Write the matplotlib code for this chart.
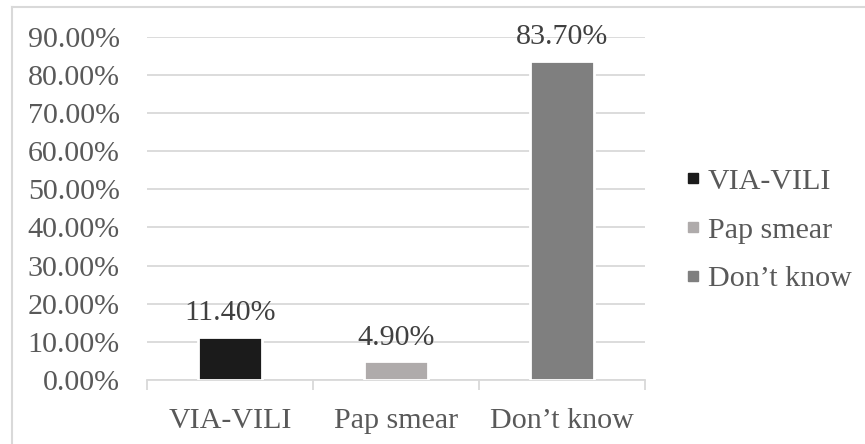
import matplotlib
matplotlib.use("Agg")
import matplotlib.pyplot as plt
from matplotlib.lines import Line2D
from matplotlib.ticker import FuncFormatter

categories = ["VIA-VILI", "Pap smear", "Don\u2019t know"]
values = [11.40, 4.90, 83.70]
colors = ["#1b1b1b", "#afabab", "#7f7f7f"]
y_ticks = [0, 10, 20, 30, 40, 50, 60, 70, 80, 90]

plt.rcParams["font.family"] = ["Liberation Serif", "DejaVu Serif"]
text_color = "#595959"
grid_color = "#d9d9d9"
fs = 21.6

fig = plt.figure(figsize=(8.65, 4.44), dpi=100)
ax = fig.add_axes([147 / 865, 1 - 380 / 444, (645 - 147) / 865, (380 - 36.7) / 444])

x = range(len(categories))
bars = ax.bar(x, values, width=0.38, color=colors, edgecolor="white",
              linewidth=2, zorder=3)

for xi, v in zip(x, values):
    ax.annotate(f"{v:.2f}%", (xi, v), xytext=(0, 12), textcoords="offset points",
                ha="center", va="baseline", fontsize=fs, color="#404040")

ax.set_xlim(-0.5, len(categories) - 0.5)
ax.set_ylim(0, 90)
ax.set_yticks(y_ticks)
ax.yaxis.set_major_formatter(FuncFormatter(lambda v, p: f"{v:.2f}%"))
ax.yaxis.grid(True, color=grid_color, linewidth=1.3, zorder=0)
ax.set_axisbelow(True)

ax.set_xticks(list(x))
ax.set_xticklabels(categories)
ax.set_xticks([i - 0.5 for i in range(len(categories) + 1)], minor=True)
ax.tick_params(axis="x", which="major", length=0, pad=20, labelsize=fs,
               labelcolor=text_color)
ax.tick_params(axis="x", which="minor", length=7, width=1.3, color=grid_color)
ax.tick_params(axis="y", length=0, pad=19.5, labelsize=fs, labelcolor=text_color)

for side in ["top", "right", "left"]:
    ax.spines[side].set_visible(False)
ax.spines["bottom"].set_color(grid_color)
ax.spines["bottom"].set_linewidth(1.3)

handles = [Line2D([], [], marker="s", linestyle="none", markersize=7,
                  markerfacecolor=c, markeredgecolor=c) for c in colors]
fig.legend(handles, categories, loc="center left",
           bbox_to_anchor=(685 / 865, 1 - 230 / 444), frameon=False,
           fontsize=fs, labelcolor=text_color, handlelength=0.5,
           handletextpad=0.25, labelspacing=0.72, borderpad=0, borderaxespad=0)

# chart area border
fig.add_artist(Line2D([12 / 865, 12 / 865], [0, 1 - 7 / 444], color=grid_color,
                      linewidth=1.5, transform=fig.transFigure))
fig.add_artist(Line2D([12 / 865, 1], [1 - 7 / 444, 1 - 7 / 444], color=grid_color,
                      linewidth=1.5, transform=fig.transFigure))

fig.savefig("out.png", dpi=100)
